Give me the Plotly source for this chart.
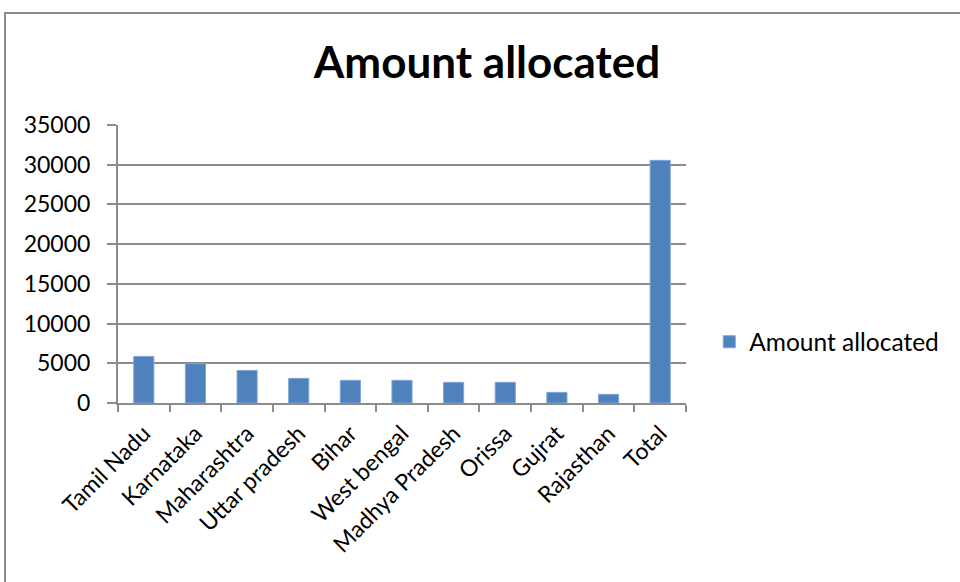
import plotly.graph_objects as go

# Allocation by state (in the same units as the source table)
states = ["Tamil Nadu", "Karnataka", "Maharashtra", "Uttar pradesh", "Bihar",
          "West bengal", "Madhya Pradesh", "Orissa", "Gujrat", "Rajasthan", "Total"]
amounts = [5860, 4950, 4100, 3100, 2850, 2850, 2600, 2600, 1340, 1090, 30550]

y_ticks = [0, 5000, 10000, 15000, 20000, 25000, 30000, 35000]
y_tick_labels = [str(v) for v in y_ticks]

BAR = "#4f81bd"
GRID = "#8c8c8c"
TICK_FONT = dict(family="Lato", size=23, color="#000000")

fig = go.Figure(
    go.Bar(
        x=states,
        y=amounts,
        name="Amount allocated",
        marker=dict(color=BAR, line=dict(color="#7fa6d6", width=1)),
    )
)

fig.update_layout(
    width=960,
    height=582,
    margin=dict(l=118, r=274, t=125, b=179),
    paper_bgcolor="white",
    plot_bgcolor="white",
    bargap=0.61,
    title=dict(
        text="<b>Amount allocated</b>",
        font=dict(family="Lato", size=44, color="#000000"),
        x=487 / 960,
        xanchor="center",
        y=1 - 63 / 582,
        yanchor="middle",
    ),
    showlegend=True,
    legend=dict(
        x=1.041,
        xanchor="left",
        y=0.22,
        yanchor="middle",
        font=dict(family="Lato", size=24.5, color="#000000"),
        bgcolor="rgba(0,0,0,0)",
        itemwidth=30,
    ),
    xaxis=dict(
        type="category",
        tickangle=-45,
        tickson="boundaries",
        ticks="outside",
        ticklen=7,
        tickcolor=GRID,
        tickwidth=2,
        ticklabelstandoff=6,
        showline=True,
        linecolor=GRID,
        linewidth=2,
        showgrid=False,
        tickfont=TICK_FONT,
    ),
    yaxis=dict(
        range=[0, 35000],
        tickvals=y_ticks,
        ticktext=y_tick_labels,
        ticks="outside",
        ticklen=9,
        tickcolor=GRID,
        tickwidth=2,
        ticklabelstandoff=12,
        showline=True,
        linecolor=GRID,
        linewidth=2,
        showgrid=True,
        gridcolor=GRID,
        gridwidth=2,
        tickfont=TICK_FONT,
        zeroline=False,
    ),
    shapes=[
        # chart frame
        dict(
            type="rect",
            xref="paper",
            yref="paper",
            x0=(5 - 118) / 568,
            x1=(975 - 118) / 568,
            y0=(403 - 600) / 278,
            y1=(403 - 13) / 278,
            line=dict(color="#8c8c8c", width=2),
            fillcolor="rgba(0,0,0,0)",
            layer="below",
        )
    ],
)

fig.write_html("out.html")
